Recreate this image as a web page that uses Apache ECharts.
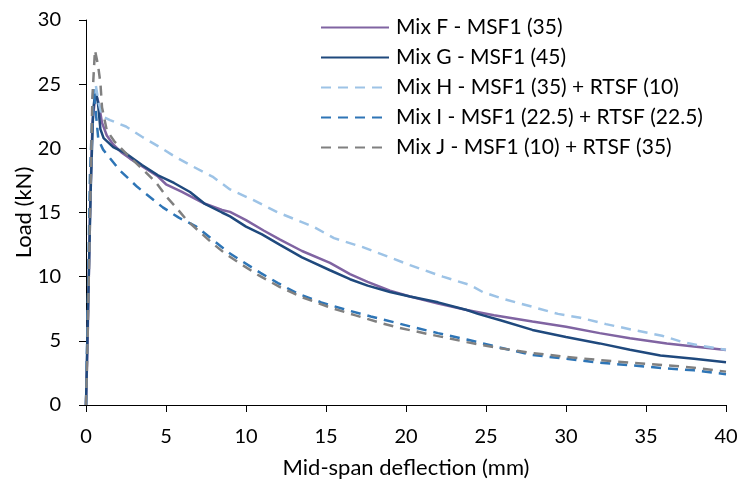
<!DOCTYPE html>
<html>
<head>
<meta charset="utf-8">
<script src="https://cdn.jsdelivr.net/npm/echarts@6/dist/echarts.min.js"></script>
<style>html,body{margin:0;padding:0;background:#fff}#c{width:739px;height:479px}</style>
</head>
<body>
<div id="c"></div>
<script>
const seriesNames = ['Mix F - MSF1 (35)', 'Mix G - MSF1 (45)', 'Mix H - MSF1 (35) + RTSF (10)', 'Mix I - MSF1 (22.5) + RTSF (22.5)', 'Mix J - MSF1 (10) + RTSF (35)'];
const xTicks = [0, 5, 10, 15, 20, 25, 30, 35, 40];
const yTicks = [0, 5, 10, 15, 20, 25, 30];

const mixF = [[0,0],[0.1,5],[0.25,15],[0.4,22],[0.6,24.3],[0.8,23.5],[1.0,22],[1.3,21],[1.7,20.3],[2.2,19.7],[2.75,19.2],[3.5,18.6],[4.5,17.8],[5,17.2],[6,16.6],[7.4,15.7],[8.5,15.2],[9,15.05],[10,14.4],[11.1,13.6],[12.1,12.9],[13.5,12.0],[15.25,11.07],[16.5,10.2],[17.6,9.6],[19,8.9],[20.25,8.45],[22,7.9],[23.8,7.4],[25.5,7.0],[27.9,6.5],[30,6.1],[32.1,5.6],[34,5.2],[36.3,4.8],[38,4.55],[40,4.28]];
const mixG = [[0,0],[0.1,6],[0.3,17],[0.45,23],[0.6,24.6],[0.75,23.5],[0.9,21.5],[1.1,20.8],[1.7,20.1],[2.5,19.6],[3.5,18.7],[4.5,17.9],[5.5,17.3],[6.5,16.6],[7.4,15.7],[8.5,15.0],[9,14.7],[10,13.9],[11,13.3],[12.1,12.5],[13.5,11.5],[15.25,10.5],[16.5,9.8],[17.6,9.3],[19,8.8],[20.25,8.45],[22,8.0],[23.8,7.4],[24.5,7.1],[25.9,6.6],[27.9,5.85],[30,5.3],[32.1,4.8],[34,4.3],[35.9,3.85],[38,3.6],[40,3.33]];
const mixH = [[0,0],[0.1,6],[0.25,16],[0.4,23],[0.6,25.0],[0.8,23.5],[1.0,22.5],[1.5,22.2],[2.5,21.7],[3.5,20.9],[4.6,20.1],[5.5,19.4],[6.5,18.7],[7.9,17.8],[9,16.8],[10.4,16.0],[12,15.0],[14.2,13.9],[15.5,13.0],[17.3,12.3],[19,11.5],[20.25,10.9],[22.3,10.0],[24,9.35],[24.8,8.8],[26,8.3],[27.9,7.65],[29.5,7.1],[30.9,6.8],[32.5,6.3],[34.2,5.85],[36,5.4],[37.3,4.9],[38.5,4.6],[40,4.3]];
const mixI = [[0,0],[0.1,7],[0.25,18],[0.46,24.7],[0.6,23],[0.77,20.7],[1.07,19.9],[2.1,18.3],[3.2,17.0],[4.8,15.4],[5.8,14.6],[6.9,13.9],[8,12.8],[9,11.8],[10.9,10.3],[12,9.5],[13.2,8.7],[14.7,8.0],[16.3,7.4],[17.8,6.9],[19.4,6.4],[20.5,6.05],[22,5.6],[23.8,5.1],[25.8,4.5],[27.9,3.9],[30,3.6],[32.1,3.3],[34,3.1],[36.3,2.85],[38,2.7],[40,2.4]];
const mixJ = [[0,0],[0.1,5],[0.25,15],[0.4,24],[0.56,27.65],[0.75,26.5],[0.9,25.1],[1.0,23.2],[1.3,21.4],[1.8,20.5],[2.5,19.6],[3.6,18.3],[4.4,17.3],[5.05,16.2],[5.7,15.3],[6.3,14.4],[7.1,13.5],[7.9,12.6],[8.7,11.8],[9.6,11.05],[10.8,10.1],[12.1,9.2],[13.5,8.4],[15.25,7.6],[16.8,7.0],[18.4,6.4],[19.6,6.0],[21.5,5.5],[23.8,4.9],[25.5,4.5],[27.9,4.05],[30,3.75],[32.1,3.5],[34,3.3],[36.3,3.1],[38,2.9],[40,2.6]];

const colors = ['#8064A2', '#1F497D', '#9DC3E6', '#2E75B6', '#808080'];
const dashes = ['solid', 'solid', [10, 7], [10, 7], [10, 7]];
const datasets = [mixF, mixG, mixH, mixI, mixJ];
const FONT = 'Lato';

const chart = echarts.init(document.getElementById('c'), null, {renderer: 'canvas'});
chart.setOption({
  animation: false,
  backgroundColor: '#fff',
  textStyle: {fontFamily: FONT, color: '#000'},
  grid: {left: 86, right: 13, top: 20, bottom: 74, containLabel: false, outerBoundsMode: 'none'},
  legend: {
    orient: 'vertical', left: 315, top: 12,
    itemWidth: 68, itemHeight: 14, itemGap: 9,
    itemStyle: {opacity: 0},
    textStyle: {fontFamily: FONT, fontSize: 21, color: '#000', padding: [0, 0, 0, 2]},
    data: seriesNames
  },
  xAxis: {
    type: 'value', min: 0, max: 40, interval: 5,
    name: 'Mid-span deflection (mm)', nameLocation: 'middle', nameGap: 52,
    nameTextStyle: {fontFamily: FONT, fontSize: 22, color: '#000'},
    axisLine: {show: true, lineStyle: {color: '#000', width: 1}},
    axisTick: {show: true, inside: false, length: 7, lineStyle: {color: '#000'}},
    axisLabel: {fontFamily: FONT, fontSize: 20, color: '#000', margin: 22,
      formatter: v => xTicks.includes(v) ? String(v) : ''},
    splitLine: {show: false}
  },
  yAxis: {
    type: 'value', min: 0, max: 30, interval: 5,
    name: 'Load (kN)', nameLocation: 'middle', nameGap: 51, nameMoveOverlap: false,
    nameTextStyle: {fontFamily: FONT, fontSize: 22, color: '#000'},
    axisLine: {show: true, lineStyle: {color: '#000', width: 1}},
    axisTick: {show: true, inside: false, length: 7, lineStyle: {color: '#000'}},
    axisLabel: {fontFamily: FONT, fontSize: 20, color: '#000', margin: 25,
      formatter: v => yTicks.includes(v) ? String(v) : ''},
    splitLine: {show: false}
  },
  series: datasets.map((d, i) => ({
    name: seriesNames[i], type: 'line', data: d,
    showSymbol: false, symbol: 'none', smooth: false,
    lineStyle: {color: colors[i], width: 2.5, type: dashes[i]},
    itemStyle: {color: colors[i]}
  }))
});
</script>
</body>
</html>
